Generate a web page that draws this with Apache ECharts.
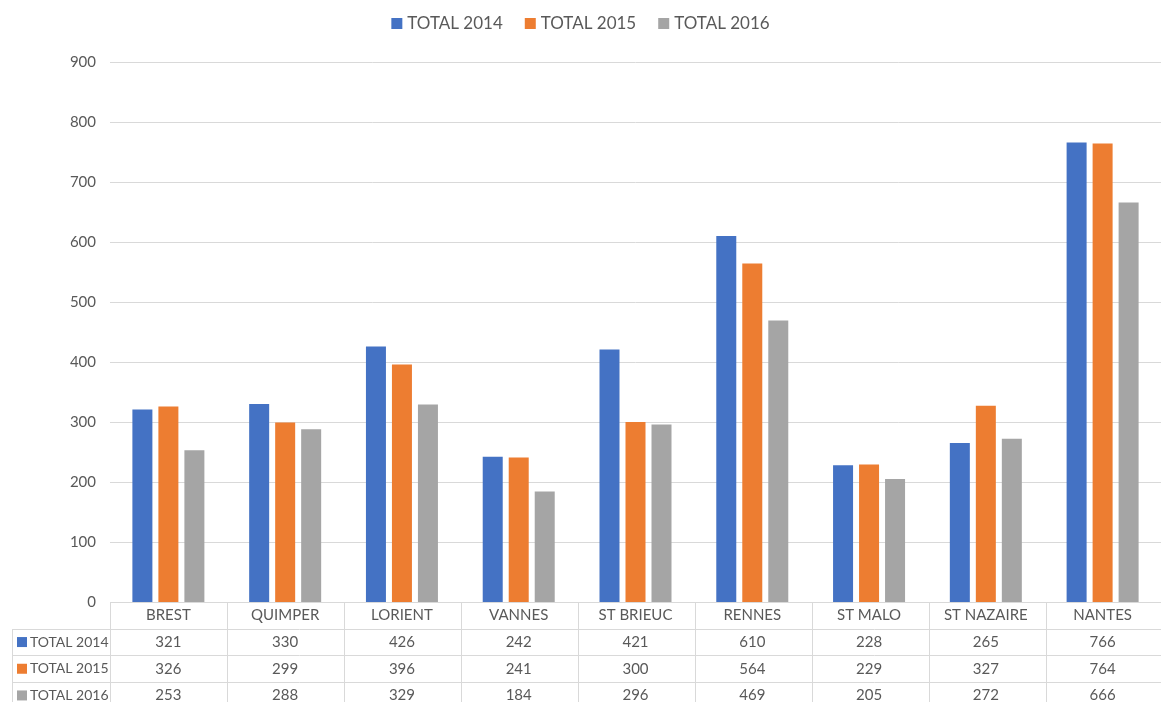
<!DOCTYPE html>
<html>
<head>
<meta charset="utf-8">
<script src="https://cdn.jsdelivr.net/npm/echarts@6/dist/echarts.min.js"></script>
<style>
  html, body { margin: 0; padding: 0; background: #fff; }
  #chart { width: 1161px; height: 702px; }
</style>
</head>
<body>
<div id="chart"></div>
<script>
  const categories = ['BREST', 'QUIMPER', 'LORIENT', 'VANNES', 'ST BRIEUC', 'RENNES', 'ST MALO', 'ST NAZAIRE', 'NANTES']
  const total2014 = [321, 330, 426, 242, 421, 610, 228, 265, 766]
  const total2015 = [326, 299, 396, 241, 300, 564, 229, 327, 764]
  const total2016 = [253, 288, 329, 184, 296, 469, 205, 272, 666]
  const seriesNames = ['TOTAL 2014', 'TOTAL 2015', 'TOTAL 2016']
  const colors = ['#4472C4', '#ED7D31', '#A5A5A5']

  const font = 'Lato'
  const textColor = '#595959'
  const lineColor = '#d9d9d9'
  const gridLeft = 110
  const gridRight = -2
  const gridTop = 62
  const gridBottom = 100
  const rowH = 26.7

  const chart = echarts.init(document.getElementById('chart'))
  const allData = [total2014, total2015, total2016]

  const option = {
    animation: false,
    color: colors,
    textStyle: { fontFamily: font },
    legend: {
      top: 10,
      left: 'center',
      itemWidth: 11,
      itemHeight: 11,
      itemGap: 22,
      icon: 'rect',
      textStyle: { color: textColor, fontSize: 17, fontFamily: font },
      data: seriesNames
    },
    grid: { left: gridLeft, right: gridRight, top: gridTop, bottom: gridBottom },
    xAxis: {
      type: 'category',
      data: categories,
      axisLine: { show: false },
      axisTick: { show: false },
      axisLabel: { show: false }
    },
    yAxis: {
      type: 'value',
      min: 0,
      max: 900,
      interval: 100,
      axisLine: { show: false },
      axisTick: { show: false },
      axisLabel: { color: textColor, fontSize: 15, margin: 14, fontFamily: font },
      splitLine: { lineStyle: { color: lineColor, width: 1 } }
    },
    series: seriesNames.map((name, i) => ({
      name: name,
      type: 'bar',
      data: allData[i],
      barWidth: 20,
      barGap: '30%'
    }))
  }
  chart.setOption(option)

  // data table under the plot, laid out from the category axis
  function buildTable() {
    const W = chart.getWidth()
    const H = chart.getHeight()
    const plotBottom = H - gridBottom
    const right = W - gridRight
    const step = (right - gridLeft) / categories.length
    const els = []
    const line = (x1, y1, x2, y2) => els.push({
      type: 'line', shape: { x1, y1, x2, y2 }, style: { stroke: lineColor, lineWidth: 1 }, silent: true
    })
    line(gridLeft, plotBottom + 0.5, right, plotBottom + 0.5)
    for (let r = 1; r <= 3; r++) {
      const y = Math.round(plotBottom + rowH * r) + 0.5
      line(12, y, right, y)
    }
    line(12.5, Math.round(plotBottom + rowH) + 0.5, 12.5, H)
    for (let k = 0; k <= categories.length; k++) {
      const x = Math.round(gridLeft + step * k) + 0.5
      line(x, plotBottom, x, H)
    }
    categories.forEach((c, i) => {
      const cx = chart.convertToPixel({ xAxisIndex: 0 }, i)
      els.push({
        type: 'text', silent: true,
        style: { text: c, x: cx, y: plotBottom + rowH / 2, align: 'center', verticalAlign: 'middle',
          fill: textColor, fontSize: 15, fontFamily: font }
      })
      allData.forEach((d, r) => {
        els.push({
          type: 'text', silent: true,
          style: { text: String(d[i]), x: cx, y: plotBottom + rowH * (r + 1.5), align: 'center', verticalAlign: 'middle',
            fill: textColor, fontSize: 15, fontFamily: font }
        })
      })
    })
    seriesNames.forEach((n, r) => {
      const cy = plotBottom + rowH * (r + 1.5)
      els.push({ type: 'rect', silent: true, shape: { x: 17, y: cy - 5, width: 10, height: 10 }, style: { fill: colors[r] } })
      els.push({
        type: 'text', silent: true,
        style: { text: n, x: 30, y: cy, align: 'left', verticalAlign: 'middle', fill: textColor, fontSize: 14, fontFamily: font }
      })
    })
    chart.setOption({ graphic: els })
  }
  buildTable()
</script>
</body>
</html>
